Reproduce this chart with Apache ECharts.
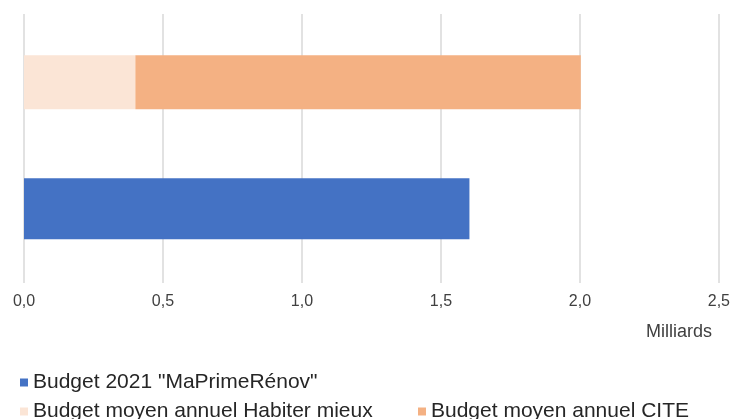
<!DOCTYPE html>
<html>
<head>
<meta charset="utf-8">
<script src="https://cdn.jsdelivr.net/npm/echarts@6/dist/echarts.min.js"></script>
<style>
  html, body { margin: 0; padding: 0; background: #fff; }
  #chart { width: 733px; height: 419px; }
</style>
</head>
<body>
<div id="chart"></div>
<script>
// Budgets de la rénovation énergétique (milliards d'euros)
const categories = ['Dispositifs précédents', 'MaPrimeRénov 2021'];
const seriesNames = ['Budget 2021 "MaPrimeRénov"', 'Budget moyen annuel Habiter mieux', 'Budget moyen annuel CITE'];
const maPrimeRenov = [null, 1.6];
const habiterMieux = [0.4, null];
const cite = [1.6, null];
const xTicks = [0, 0.5, 1.0, 1.5, 2.0, 2.5];

const colors = ['#4472C4', '#FBE5D6', '#F4B183'];
const FONT = '"Liberation Sans", Arial, sans-serif';

const chart = echarts.init(document.getElementById('chart'), null, { renderer: 'canvas' });

const legendBase = {
  icon: 'rect',
  itemWidth: 8,
  itemHeight: 8,
  itemGap: 0,
  textStyle: { fontFamily: FONT, fontSize: 21, color: '#262626' },
  padding: 0
};

chart.setOption({
  animation: false,
  backgroundColor: '#fff',
  title: {
    text: 'Milliards',
    right: 21,
    top: 323,
    padding: 0,
    textStyle: { fontFamily: FONT, fontSize: 18, fontWeight: 'normal', color: '#404040' }
  },
  legend: [
    Object.assign({}, legendBase, { data: [seriesNames[0]], left: 20, top: 372 }),
    Object.assign({}, legendBase, { data: [seriesNames[1]], left: 20, top: 401 }),
    Object.assign({}, legendBase, { data: [seriesNames[2]], left: 418, top: 401 })
  ],
  grid: [
    { left: 24, right: 13, top: 14, bottom: 136 },
    { left: 24, right: 13, top: 19, height: 253 }
  ],
  xAxis: [
    {
      gridIndex: 0,
      type: 'value',
      min: xTicks[0],
      max: xTicks[xTicks.length - 1],
      interval: 0.5,
      axisLine: { show: false },
      axisTick: { show: false },
      splitLine: { lineStyle: { color: '#d9d9d9', width: 1.5 } },
      axisLabel: {
        margin: 11,
        fontFamily: FONT,
        fontSize: 16,
        color: '#404040',
        formatter: v => v.toFixed(1).replace('.', ',')
      }
    },
    {
      gridIndex: 1,
      type: 'value',
      min: xTicks[0],
      max: xTicks[xTicks.length - 1],
      show: false,
      splitLine: { show: false }
    }
  ],
  yAxis: [
    { gridIndex: 0, type: 'category', data: categories, show: false },
    { gridIndex: 1, type: 'category', data: categories, inverse: true, show: false },
    { gridIndex: 1, type: 'category', data: categories, inverse: true, show: false }
  ],
  series: [
    {
      name: seriesNames[0], type: 'bar', xAxisIndex: 1, yAxisIndex: 2,
      data: maPrimeRenov, barWidth: 61,
      itemStyle: { color: colors[0] }
    },
    {
      name: seriesNames[1], type: 'bar', xAxisIndex: 1, yAxisIndex: 1, stack: 'ancien',
      data: habiterMieux, barWidth: 54,
      itemStyle: { color: colors[1] }
    },
    {
      name: seriesNames[2], type: 'bar', xAxisIndex: 1, yAxisIndex: 1, stack: 'ancien',
      data: cite, barWidth: 54,
      itemStyle: { color: colors[2] }
    }
  ]
});
</script>
</body>
</html>
